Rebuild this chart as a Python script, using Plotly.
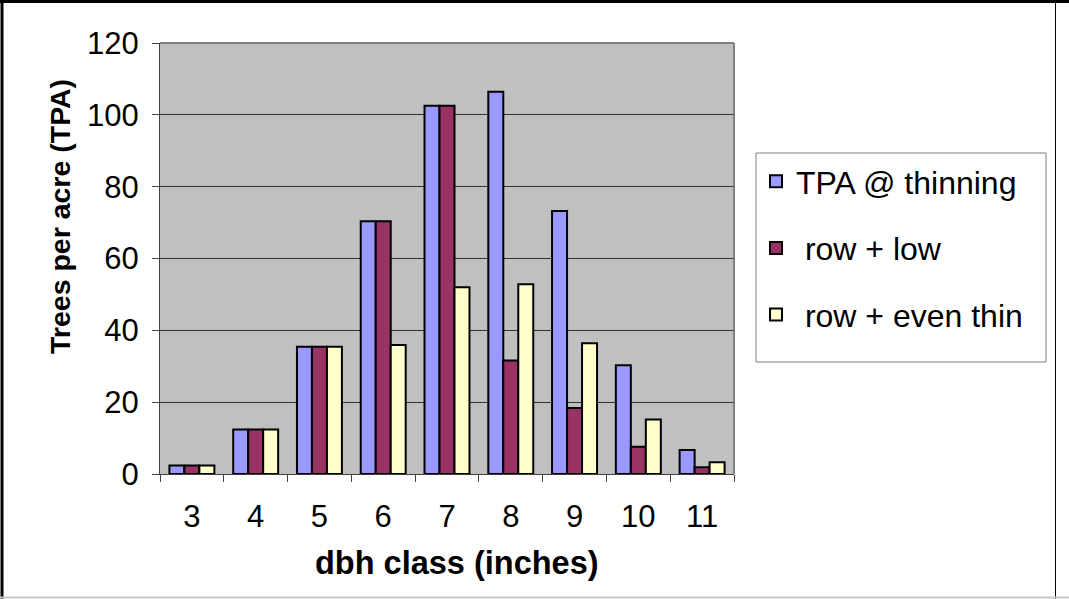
import plotly.graph_objects as go

categories = ["3", "4", "5", "6", "7", "8", "9", "10", "11"]
tpa_thinning = [2.4, 12.4, 35.4, 70.4, 102.5, 106.4, 73.2, 30.3, 6.7]
row_low = [2.4, 12.4, 35.4, 70.4, 102.5, 31.6, 18.4, 7.6, 1.9]
row_even = [2.4, 12.4, 35.4, 35.9, 52.0, 52.8, 36.4, 15.2, 3.3]

series_names = ["TPA @ thinning", " row + low", " row + even thin"]
series_colors = ["#9999FF", "#993366", "#FFFFCC"]

FONT = "Liberation Sans, Arial, sans-serif"

fig = go.Figure()
for i, (name, vals, col) in enumerate(zip(series_names, [tpa_thinning, row_low, row_even], series_colors)):
    fig.add_trace(go.Bar(
        x=categories, y=vals, name=name, legendgroup=f"g{i}",
        marker=dict(color=col, line=dict(color="black", width=2)),
    ))

L, R, T, B = 160, 335, 43, 125
W, H = 1069, 599
pw = W - L - R
ph = H - T - B

def px_x(p):
    return (p - L) / pw

def px_y(p):
    return (H - B - p) / ph

fig.update_layout(
    width=W, height=H,
    margin=dict(l=L, r=R, t=T, b=B, pad=0),
    paper_bgcolor="white",
    plot_bgcolor="#C0C0C0",
    barmode="group", bargap=0.295, bargroupgap=0,
    font=dict(family=FONT, size=30, color="black"),
    showlegend=True,
    legend=dict(
        x=px_x(756), y=px_y(154), xanchor="left", yanchor="top",
        bgcolor="rgba(0,0,0,0)", borderwidth=0,
        font=dict(size=32, family=FONT),
        tracegroupgap=22, itemwidth=30,
        traceorder="grouped",
    ),
    xaxis=dict(
        type="category",
        showline=True, linecolor="#404040", linewidth=1,
        ticks="outside", ticklen=7, tickcolor="#404040", tickson="boundaries",
        ticklabelstandoff=15,
        tickfont=dict(size=31, family=FONT),
        showgrid=False,
    ),
    yaxis=dict(
        range=[0, 120], dtick=20,
        showline=True, linecolor="#404040", linewidth=1,
        ticks="outside", ticklen=7, tickcolor="#404040",
        ticklabelstandoff=7,
        tickfont=dict(size=31, family=FONT),
        showgrid=True, gridcolor="#303030", gridwidth=1,
        zeroline=False,
    ),
    annotations=[
        dict(text="<b>Trees per acre (TPA)</b>", textangle=-90, xref="paper", yref="paper",
             x=px_x(60), y=px_y(217), xanchor="center", yanchor="middle", showarrow=False,
             font=dict(size=28.5, family=FONT)),
        dict(text="<b>dbh class (inches)</b>", xref="paper", yref="paper",
             x=px_x(457), y=px_y(563), xanchor="center", yanchor="middle", showarrow=False,
             font=dict(size=32.5, family=FONT)),
    ],
    shapes=[
        # legend box
        dict(type="rect", xref="paper", yref="paper", x0=px_x(756), x1=px_x(1046), y0=px_y(153), y1=px_y(362),
             fillcolor="white", line=dict(color="#808080", width=1), layer="above"),
        # plot area top and right border
        dict(type="line", xref="paper", yref="paper", x0=0, x1=1, y0=1, y1=1,
             line=dict(color="#808080", width=2)),
        dict(type="line", xref="paper", yref="paper", x0=1, x1=1, y0=0, y1=1,
             line=dict(color="#808080", width=2)),
        # outer page borders
        dict(type="line", xref="paper", yref="paper", x0=px_x(0), x1=px_x(1069), y0=px_y(1.5), y1=px_y(1.5),
             line=dict(color="black", width=3)),
        dict(type="line", xref="paper", yref="paper", x0=px_x(2), x1=px_x(2), y0=px_y(0), y1=px_y(599),
             line=dict(color="black", width=3)),
        dict(type="line", xref="paper", yref="paper", x0=px_x(1055.5), x1=px_x(1055.5), y0=px_y(0), y1=px_y(599),
             line=dict(color="black", width=1)),
        dict(type="line", xref="paper", yref="paper", x0=px_x(0), x1=px_x(1069), y0=px_y(597.5), y1=px_y(597.5),
             line=dict(color="#C8C8C8", width=2)),
    ],
)

fig.write_html("out.html", config={"displayModeBar": False},
               post_script="document.body.style.margin='0px';")
